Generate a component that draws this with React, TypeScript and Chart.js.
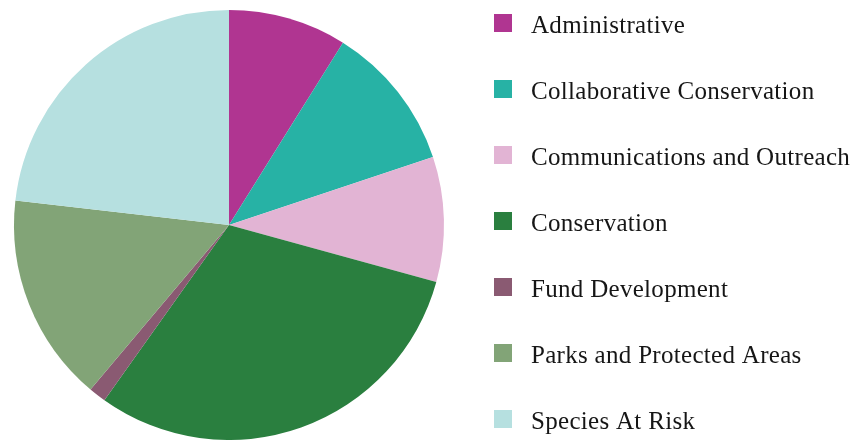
import React, { useEffect, useRef } from "react";
import { Chart, registerables } from "chart.js";

Chart.register(...registerables);

const categories: string[] = [
  "Administrative",
  "Collaborative Conservation",
  "Communications and Outreach",
  "Conservation",
  "Fund Development",
  "Parks and Protected Areas",
  "Species At Risk",
];

const shares: number[] = [8.9, 11.0, 9.4, 30.6, 1.3, 15.7, 23.2];

const sliceColors: string[] = [
  "#B03591",
  "#27B2A5",
  "#E2B4D4",
  "#2A7F3F",
  "#8A5A72",
  "#82A477",
  "#B6E0E0",
];

const LEGEND_BOX_X = 494;
const LEGEND_TEXT_X = 531;
const LEGEND_FIRST_Y = 23;
const LEGEND_ROW = 66;
const LEGEND_BOX = 18;

const sideLegend = {
  id: "sideLegend",
  afterDraw(chart: any) {
    const ctx = chart.ctx as CanvasRenderingContext2D;
    const labels = chart.data.labels as string[];
    const bg = chart.data.datasets[0].backgroundColor as string[];
    ctx.save();
    ctx.font = "25px 'Liberation Serif', 'Times New Roman', serif";
    try {
      (ctx as any).letterSpacing = "0.3px";
    } catch (e) {}
    ctx.textBaseline = "alphabetic";
    ctx.textAlign = "left";
    labels.forEach((label, i) => {
      const cy = LEGEND_FIRST_Y + LEGEND_ROW * i;
      ctx.fillStyle = bg[i];
      ctx.fillRect(LEGEND_BOX_X, cy - LEGEND_BOX / 2, LEGEND_BOX, LEGEND_BOX);
      ctx.fillStyle = "#161616";
      ctx.fillText(label, LEGEND_TEXT_X, cy + 10);
    });
    ctx.restore();
  },
};

export default function App() {
  const canvasRef = useRef<HTMLCanvasElement | null>(null);

  useEffect(() => {
    document.body.style.margin = "0";
    document.body.style.overflow = "hidden";
    const canvas = canvasRef.current;
    if (!canvas) return;
    const chart = new Chart(canvas, {
      type: "pie",
      data: {
        labels: categories,
        datasets: [
          {
            data: shares,
            backgroundColor: sliceColors,
            borderWidth: 0,
          },
        ],
      },
      options: {
        animation: false,
        responsive: true,
        maintainAspectRatio: false,
        layout: {
          padding: { left: 14, right: 417, top: 10, bottom: 0 },
        },
        plugins: {
          legend: { display: false },
          tooltip: { enabled: false },
        },
      },
      plugins: [sideLegend],
    });
    return () => chart.destroy();
  }, []);

  return (
    <div style={{ position: "fixed", left: 0, top: 0, width: 861, height: 440, background: "#ffffff" }}>
      <canvas ref={canvasRef} />
    </div>
  );
}
